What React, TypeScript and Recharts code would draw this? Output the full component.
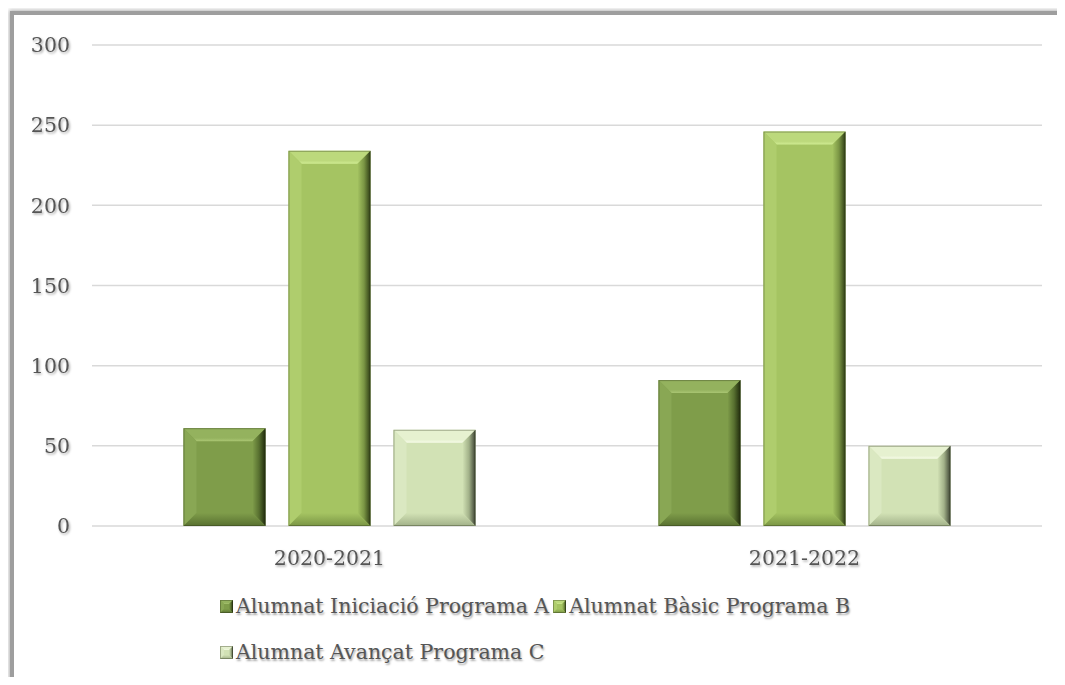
import React from "react";
import { BarChart, Bar, XAxis, YAxis, CartesianGrid, Legend } from "recharts";

const categories = ["2020-2021", "2021-2022"];
const iniciacio = [61, 91];
const basic = [234, 246];
const avancat = [60, 50];
const yTicks = [0, 50, 100, 150, 200, 250, 300];

const seriesKeys = ["iniciacio", "basic", "avancat"];
const seriesNames = [
  "Alumnat Iniciació Programa A",
  "Alumnat Bàsic Programa B",
  "Alumnat Avançat Programa C",
];

const palette: Record<string, { base: string; top: string; hi: string; left: string; right: string; bottom: string }> = {
  iniciacio: { base: "#7f9d4a", top: "#94b25e", hi: "#aac673", left: "#89a754", right: "#1f2a0c", bottom: "#587030" },
  basic: { base: "#a5c462", top: "#bcd97c", hi: "#d0ec93", left: "#afcd6d", right: "#2e3c15", bottom: "#7a9544" },
  avancat: { base: "#d2e2b5", top: "#e6f1d0", hi: "#f6fbe8", left: "#dae8c1", right: "#3c4233", bottom: "#a2b189" },
};

const data = categories.map((c, i) => ({
  name: c,
  iniciacio: iniciacio[i],
  basic: basic[i],
  avancat: avancat[i],
}));

const FONT = "'DejaVu Serif', serif";
const FS = 20.5;
const TEXT = "#555555";

function bevel(key: string, x: number, y: number, w: number, h: number, b: number) {
  const p = palette[key];
  const bb = Math.min(b, w / 2, h / 2);
  return (
    <g>
      <rect x={x} y={y} width={w} height={h} fill={p.base} />
      <polygon
        points={`${x},${y} ${x + w},${y} ${x + w - bb},${y + bb} ${x + bb},${y + bb}`}
        fill={`url(#${key}-t)`}
      />
      <polygon
        points={`${x},${y} ${x + bb},${y + bb} ${x + bb},${y + h - bb} ${x},${y + h}`}
        fill={p.left}
      />
      <polygon
        points={`${x + w},${y} ${x + w},${y + h} ${x + w - bb},${y + h - bb} ${x + w - bb},${y + bb}`}
        fill={`url(#${key}-r)`}
      />
      <polygon
        points={`${x},${y + h} ${x + w},${y + h} ${x + w - bb},${y + h - bb} ${x + bb},${y + h - bb}`}
        fill={`url(#${key}-b)`}
      />
      <rect x={x + 0.5} y={y + 0.5} width={w - 1} height={h - 1} fill="none" stroke="rgba(40,50,20,0.35)" strokeWidth={1} />
    </g>
  );
}

const makeShape = (key: string) => (props: any) => {
  const { x, y, width, height } = props;
  if (!width || !height) return <g />;
  return bevel(key, x, y, width, height, 13);
};

function YTick({ x, y, payload }: any) {
  return (
    <text x={x} y={y} dy="0.355em" textAnchor="end" fontFamily={FONT} fontSize={FS} fill={TEXT} filter="url(#ts)">
      {payload.value}
    </text>
  );
}

function XTick({ x, y, payload }: any) {
  return (
    <text x={x} y={y} dy="0.71em" textAnchor="middle" fontFamily={FONT} fontSize={FS} fill={TEXT} filter="url(#ts)">
      {payload.value}
    </text>
  );
}

function LegendItem({ i }: { i: number }) {
  const key = seriesKeys[i];
  return (
    <div style={{ display: "flex", alignItems: "center", marginRight: 4 }}>
      <svg width={13} height={13} style={{ marginRight: 3 }}>
        {bevel(key, 0, 0, 13, 13, 4)}
      </svg>
      <span style={{ fontFamily: FONT, fontSize: FS, color: TEXT, textShadow: "1px 1.5px 2px rgba(0,0,0,0.35)" }}>
        {seriesNames[i]}
      </span>
    </div>
  );
}

function CustomLegend() {
  return (
    <div style={{ display: "flex", justifyContent: "center", height: 92 }}>
      <div>
        <div style={{ display: "flex", height: 46, alignItems: "center" }}>
          <LegendItem i={0} />
          <LegendItem i={1} />
        </div>
        <div style={{ display: "flex", height: 46, alignItems: "center" }}>
          <LegendItem i={2} />
        </div>
      </div>
    </div>
  );
}

export default function App() {
  return (
    <div style={{ width: 1049, height: 669, overflow: "hidden", position: "relative" }}>
      <svg width={0} height={0} style={{ position: "absolute" }}>
        <defs>
          <filter id="ts" x="-20%" y="-30%" width="140%" height="170%">
            <feDropShadow dx={1.2} dy={1.5} stdDeviation={1} floodColor="#000" floodOpacity={0.35} />
          </filter>
          {seriesKeys.map((k) => {
            const p = palette[k];
            return (
              <React.Fragment key={k}>
                <linearGradient id={`${k}-t`} x1="0" y1="0" x2="0" y2="1">
                  <stop offset="0" stopColor={p.top} />
                  <stop offset="0.75" stopColor={p.top} />
                  <stop offset="1" stopColor={p.hi} />
                </linearGradient>
                <linearGradient id={`${k}-r`} x1="0" y1="0" x2="1" y2="0">
                  <stop offset="0" stopColor={p.base} />
                  <stop offset="0.5" stopColor={p.bottom} />
                  <stop offset="1" stopColor={p.right} />
                </linearGradient>
                <linearGradient id={`${k}-b`} x1="0" y1="0" x2="0" y2="1">
                  <stop offset="0" stopColor={p.base} />
                  <stop offset="1" stopColor={p.bottom} />
                </linearGradient>
              </React.Fragment>
            );
          })}
        </defs>
      </svg>
      <div
        style={{
          position: "absolute",
          left: 2,
          top: 3,
          width: 1200,
          height: 800,
          border: "4px solid #9e9e9e",
          boxShadow: "0 0 4px 1px rgba(0,0,0,0.3)",
          background: "#fff",
        }}
      >
        <BarChart
          width={1045}
          height={660}
          data={data}
          margin={{ top: 30, right: 17, left: 18, bottom: 0 }}
          barCategoryGap="19.26%"
          barGap={23}
        >
          <CartesianGrid horizontal vertical={false} stroke="#d9d9d9" strokeWidth={1.5} />
          <XAxis
            dataKey="name"
            axisLine={false}
            tickLine={false}
            tickSize={0}
            tickMargin={24}
            height={57}
            tick={<XTick />}
            interval={0}
          />
          <YAxis
            domain={[0, 300]}
            ticks={yTicks}
            axisLine={false}
            tickLine={false}
            tickSize={0}
            tickMargin={22}
            width={60}
            tick={<YTick />}
            interval={0}
          />
          <Legend verticalAlign="bottom" content={<CustomLegend />} wrapperStyle={{ height: 92 }} />
          {seriesKeys.map((k, i) => (
            <Bar key={k} dataKey={k} name={seriesNames[i]} fill={palette[k].base} shape={makeShape(k)} isAnimationActive={false} />
          ))}
        </BarChart>
      </div>
    </div>
  );
}
